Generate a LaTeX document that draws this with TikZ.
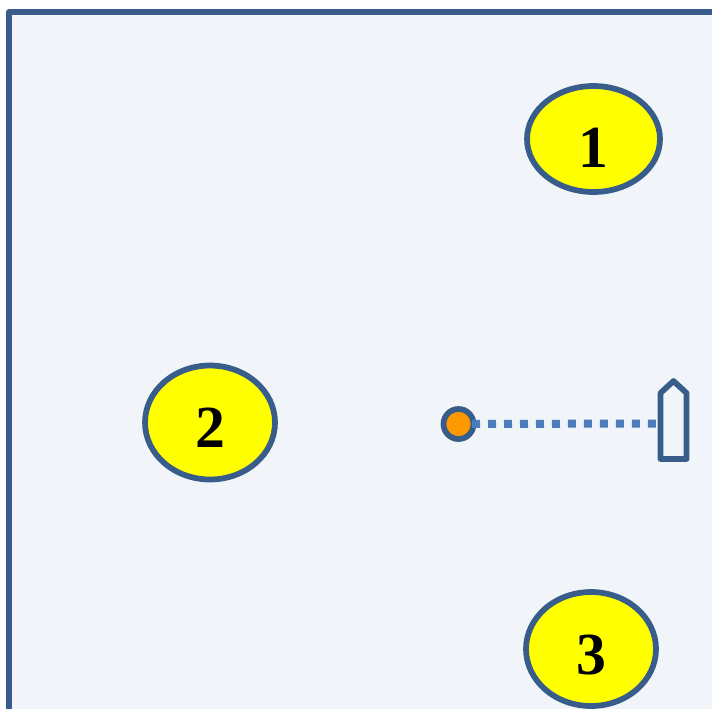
\documentclass[tikz,border=0pt]{standalone}
\usepackage{fontspec}
\setmainfont{Liberation Serif}
\usepackage{xcolor}
\definecolor{framecol}{HTML}{385D8A}
\definecolor{dotcol}{HTML}{4A7EBB}
\definecolor{panelcol}{HTML}{F1F5FA}
\definecolor{dotfill}{HTML}{FF9900}
\definecolor{islandcol}{HTML}{FFFF00}
\usetikzlibrary{shapes.geometric}

\begin{document}
\begin{tikzpicture}[
    x=0.02cm, y=-0.02cm,
    outline/.style={draw=framecol, line width=0.115cm},
    islandnode/.style={ellipse, outline, fill=islandcol, inner sep=0pt, font=\fontsize{34}{34}\selectfont\bfseries, text height=1.0cm, text depth=0pt}
]
    \useasboundingbox (0, 0) rectangle (712, 708);
    \clip (0, 0) rectangle (712, 708);

    % Panel
    \fill[panelcol] (9, 12) rectangle (730, 730);
    \draw[outline, line join=round] (9, 730) -- (9, 12) -- (730, 12);

    % Numbered ellipses
    \node[islandnode, text height=1.14cm, minimum width=2.66cm, minimum height=2.12cm] (isl1) at (593.5, 139) {1};
    \node[islandnode, minimum width=2.6cm, minimum height=2.28cm] (isl2) at (210, 422.5) {2};
    \node[islandnode, minimum width=2.6cm, minimum height=2.28cm] (isl3) at (591, 649) {3};

    % Boat
    \draw[outline, line join=round] (660.5, 459) -- (660.5, 393) -- (673.5, 381) -- (686.5, 393) -- (686.5, 459) -- cycle;
    \coordinate (bow) at (656, 423.5);

    % Dot and link
    \node[circle, outline, fill=dotfill, inner sep=0pt, minimum size=0.6cm] (dot) at (458.5, 424) {};
    \draw[draw=dotcol, line width=0.16cm, dash pattern=on 0.16cm off 0.16cm, shorten <=0.27cm] (dot.center) -- (bow);
\end{tikzpicture}
\end{document}
